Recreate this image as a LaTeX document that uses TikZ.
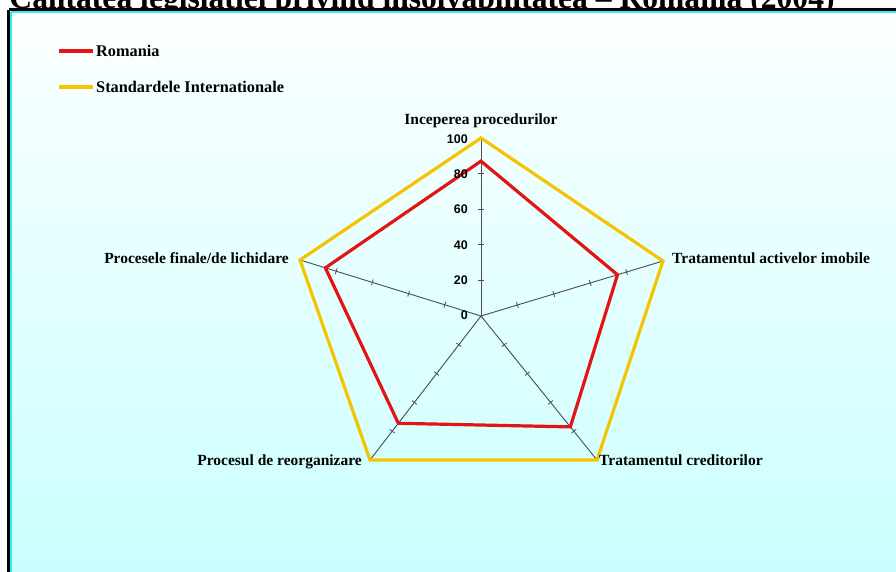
\documentclass[tikz,border=0pt]{standalone}
\usepackage{fontspec}
\setmainfont{Liberation Serif}
\setsansfont{Liberation Sans}
\usetikzlibrary{calc}
\definecolor{rRed}{HTML}{E31414}
\definecolor{sGold}{HTML}{F5C400}
\definecolor{sCyan}{HTML}{2EF0F0}
\definecolor{bgTop}{HTML}{FCFFFF}
\definecolor{bgBot}{HTML}{C8FFFF}

\begin{document}
\begin{tikzpicture}[x=1pt,y=-1pt]
		\tikzstyle{CAT} = [font=\fontsize{15.5}{17}\selectfont\bfseries, inner sep=0pt]
		\tikzstyle{legtext} = [font=\fontsize{16.3}{18}\selectfont\bfseries, inner sep=0pt, anchor=west]
		\tikzstyle{val} = [font=\fontsize{12.5}{14}\selectfont\sffamily\bfseries, inner sep=0pt, anchor=east]
		\tikzstyle{axis} = [draw=black!70, line width=0.9pt]
		\tikzstyle{tick} = [draw=black!70, line width=0.8pt]
		\tikzstyle{romania} = [draw=rRed, line width=3.2pt, line join=miter]
		\tikzstyle{standard} = [draw=sGold, line width=3.2pt, line join=miter]

		\useasboundingbox (0,0) rectangle (896,571);
		\clip (0,0) rectangle (896,571);

		% title, cut off by the top of the page
		\node[font=\fontsize{31.6}{33}\selectfont\bfseries, inner sep=0pt, anchor=base] (title) at (422,8) {Calitatea legislatiei privind insolvabilitatea – Romania (2004)};

		% chart area
		\shade[top color=bgTop, bottom color=bgBot] (8,10) rectangle (920,600);
		\draw[line width=3pt] (8.5,9.5) -- (920,9.5);
		\draw[line width=3pt] (8.5,9.5) -- (8.5,600);
		\draw[sCyan, line width=1.6pt] (11.2,12) -- (920,12);
		\draw[sCyan, line width=1.6pt] (11.2,12) -- (11.2,600);

		% legend
		\coordinate (legRomA) at (59,51);
		\coordinate (legRomB) at (93,51);
		\coordinate (legStdA) at (59,87);
		\coordinate (legStdB) at (93,87);
		\draw[romania] (legRomA) -- (legRomB);
		\draw[standard] (legStdA) -- (legStdB);
		\node[legtext] (legRom) at (96,51) {Romania};
		\node[legtext] (legStd) at (96,87) {Standardele Internationale};

		% axes
		\coordinate (ctr) at (481,316);
		\coordinate (aTop) at (481,138);
		\coordinate (aRight) at (663,261);
		\coordinate (aDownR) at (597,460);
		\coordinate (aDownL) at (370,460);
		\coordinate (aLeft) at (300,260);
		\draw[axis] (ctr) -- (aTop);
		\draw[axis] (ctr) -- (aRight);
		\draw[axis] (ctr) -- (aDownR);
		\draw[axis] (ctr) -- (aDownL);
		\draw[axis] (ctr) -- (aLeft);
		\foreach \ax in {aTop,aRight,aDownR,aDownL,aLeft}
			\foreach \f in {0.2,0.4,0.6,0.8}{
				\coordinate (tk) at ($(ctr)!\f!(\ax)$);
				\draw[tick] ($(tk)!3pt!90:(\ax)$) -- ($(tk)!3pt!-90:(\ax)$);
			}

		% data
		\coordinate (rTop) at ($(ctr)!0.87!(aTop)$);
		\coordinate (rRight) at ($(ctr)!0.75!(aRight)$);
		\coordinate (rDownR) at ($(ctr)!0.77!(aDownR)$);
		\coordinate (rDownL) at ($(ctr)!0.745!(aDownL)$);
		\coordinate (rLeft) at ($(ctr)!0.86!(aLeft)$);
		\draw[standard] (aTop) -- (aRight) -- (aDownR) -- (aDownL) -- (aLeft) -- cycle;
		\draw[romania] (rTop) -- (rRight) -- (rDownR) -- (rDownL) -- (rLeft) -- cycle;

		% scale
		\node[val] (v100) at (468,139) {100};
		\node[val] (v80) at (468,174) {80};
		\node[val] (v60) at (468,209) {60};
		\node[val] (v40) at (468,245) {40};
		\node[val] (v20) at (468,280) {20};
		\node[val] (v0) at (468,315) {0};

		% categories
		\node[CAT, anchor=base] (cStart) at (481,124) {Inceperea procedurilor};
		\node[CAT, anchor=base west] (cAssets) at (672,263) {Tratamentul activelor imobile};
		\node[CAT, anchor=base west] (cCred) at (599,465) {Tratamentul creditorilor};
		\node[CAT, anchor=base east] (cReorg) at (362,465) {Procesul de reorganizare};
		\node[CAT, anchor=base east] (cLiq) at (289,263) {Procesele finale/de lichidare};
\end{tikzpicture}
\end{document}
